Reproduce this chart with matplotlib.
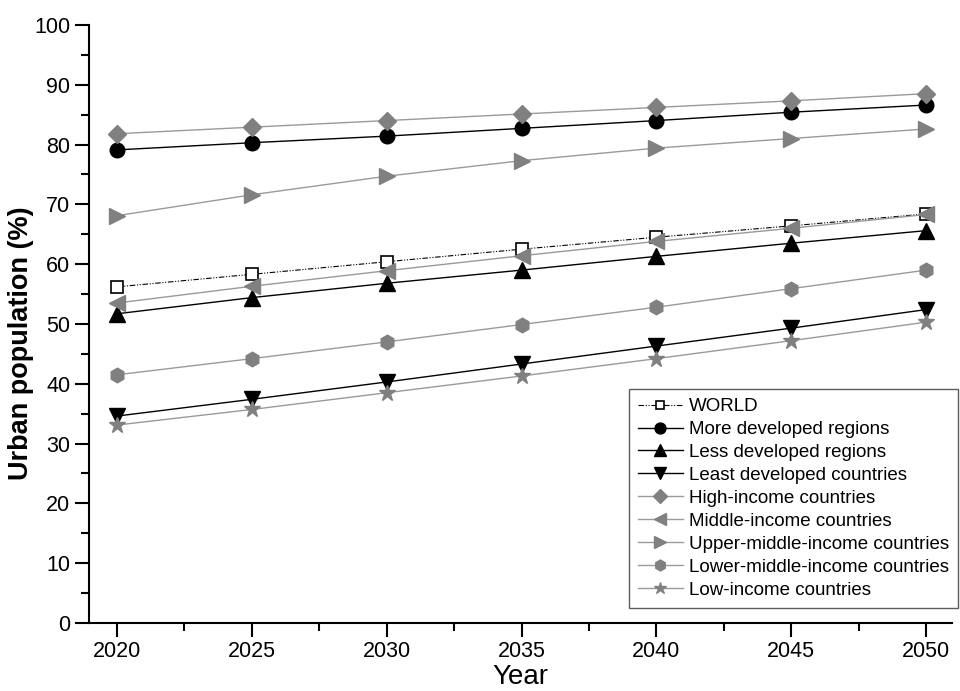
import matplotlib
matplotlib.use('Agg')
import matplotlib.pyplot as plt
from matplotlib.ticker import MultipleLocator

plt.rcParams['font.family'] = ['Liberation Sans', 'DejaVu Sans']

years = [2020, 2025, 2030, 2035, 2040, 2045, 2050]

world = [56.2, 58.3, 60.4, 62.5, 64.5, 66.4, 68.4]
more_dev = [79.1, 80.3, 81.4, 82.7, 84.0, 85.4, 86.6]
less_dev = [51.7, 54.4, 56.8, 59.0, 61.3, 63.5, 65.6]
least_dev = [34.6, 37.4, 40.3, 43.3, 46.3, 49.3, 52.4]
high_inc = [81.8, 82.9, 84.0, 85.1, 86.2, 87.3, 88.5]
middle_inc = [53.5, 56.3, 58.9, 61.4, 63.8, 66.0, 68.3]
upper_mid = [68.1, 71.6, 74.7, 77.3, 79.4, 81.0, 82.6]
lower_mid = [41.5, 44.2, 47.0, 49.9, 52.8, 55.9, 59.0]
low_inc = [33.1, 35.7, 38.5, 41.3, 44.2, 47.2, 50.3]

labels = ['WORLD', 'More developed regions', 'Less developed regions',
          'Least developed countries', 'High-income countries',
          'Middle-income countries', 'Upper-middle-income countries',
          'Lower-middle-income countries', 'Low-income countries']

gray = '#808080'
lgray = '#9a9a9a'

fig = plt.figure(figsize=(9.6, 6.91), dpi=100)
ax = fig.add_axes([0.0927, 0.0984, 0.899, 0.8656])

ax.plot(years, world, color='k', lw=0.8, ls=(0, (5, 1.5, 1, 1.5, 1, 1.5)),
        marker='s', ms=8.5, mfc='white', mec='k', mew=1.2, label=labels[0])
ax.plot(years, more_dev, color='k', lw=1, marker='o', ms=10.5, mfc='k', mec='k', label=labels[1])
ax.plot(years, less_dev, color='k', lw=1, marker='^', ms=11, mfc='k', mec='k', label=labels[2])
ax.plot(years, least_dev, color='k', lw=1, marker='v', ms=11, mfc='k', mec='k', label=labels[3])
ax.plot(years, high_inc, color=lgray, lw=1, marker='D', ms=9, mfc=gray, mec=gray, label=labels[4])
ax.plot(years, middle_inc, color=lgray, lw=1, marker='<', ms=11, mfc=gray, mec=gray, label=labels[5])
ax.plot(years, upper_mid, color=lgray, lw=1, marker='>', ms=11, mfc=gray, mec=gray, label=labels[6])
ax.plot(years, lower_mid, color=lgray, lw=1, marker='h', ms=10.5, mfc=gray, mec=gray, label=labels[7])
ax.plot(years, low_inc, color=lgray, lw=1, marker='*', ms=12, mfc=gray, mec=gray, label=labels[8])

ax.set_xlim(2018.96, 2050.96)
ax.set_ylim(0, 100)
ax.set_xticks(years)
ax.xaxis.set_minor_locator(MultipleLocator(2.5))
ax.yaxis.set_major_locator(MultipleLocator(10))
ax.yaxis.set_minor_locator(MultipleLocator(5))

for s in ['top', 'right']:
    ax.spines[s].set_visible(False)
for s in ['left', 'bottom']:
    ax.spines[s].set_linewidth(1.5)

ax.tick_params(which='major', direction='out', length=10, width=1.5, labelsize=15.5)
ax.tick_params(axis='x', which='major', pad=3)
ax.tick_params(which='minor', direction='out', length=6, width=1.5)

ax.set_xlabel('Year', fontsize=20)
ax.xaxis.set_label_coords(0.5, -0.069)
ax.set_ylabel('Urban population (%)', fontsize=19.5, fontweight='bold')
ax.yaxis.set_label_coords(-0.064, 0.467)

leg = ax.legend(loc='lower right', bbox_to_anchor=(1.007, 0.025), fontsize=13.5,
                frameon=True, fancybox=False, handlelength=2.4, labelspacing=0.31,
                borderpad=0.5, handletextpad=0.3, borderaxespad=0, markerscale=0.75)
leg.get_frame().set_edgecolor('#333333')
leg.get_frame().set_linewidth(1.0)

fig.savefig('out.png', dpi=100)
